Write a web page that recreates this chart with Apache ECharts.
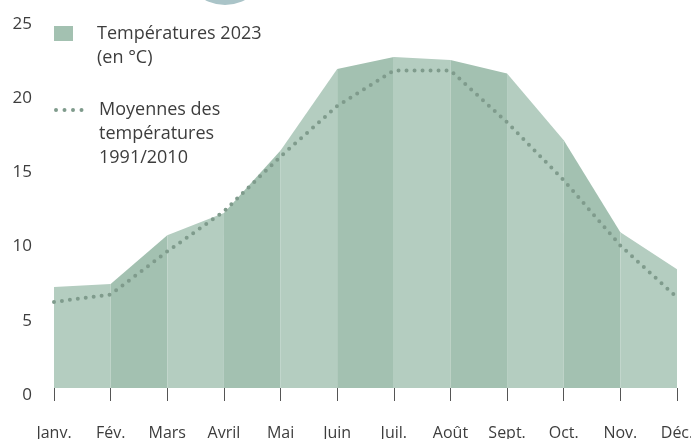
<!DOCTYPE html>
<html>
<head>
<meta charset="utf-8">
<script src="https://cdn.jsdelivr.net/npm/echarts@6/dist/echarts.min.js"></script>
<style>
  html, body { margin: 0; padding: 0; background: #fff; }
  #chart { width: 691px; height: 439px; }
</style>
</head>
<body>
<div id="chart"></div>
<script>
// données
const months = ['Janv.', 'Fév.', 'Mars', 'Avril', 'Mai', 'Juin', 'Juil.', 'Août', 'Sept.', 'Oct.', 'Nov.', 'Déc.']
const temp2023 = [6.8, 7.0, 10.3, 11.8, 16.0, 21.5, 22.3, 22.1, 21.2, 16.7, 10.5, 8.0]
const moyennes = [5.8, 6.3, 9.2, 11.9, 15.6, 19.0, 21.4, 21.4, 17.9, 14.0, 9.6, 6.1]
const yTicks = [0, 5, 10, 15, 20, 25]

const nameTemp = 'Températures 2023'
const nameMoy = 'Moyennes des températures 1991/2010'
const font = "'Open Sans', sans-serif"
const textColor = '#3d3d3d'
const lightBand = '#b4cdc0'
const darkBand = '#a3c1b1'
const dotColor = '#7f9b8c'

// une série par mois pour avoir les bandes alternées
const bandSeries = []
for (let i = 0; i < months.length - 1; i++) {
  bandSeries.push({
    name: nameTemp,
    type: 'line',
    data: temp2023.map((v, j) => (j === i || j === i + 1 ? v : '-')),
    symbol: 'none',
    silent: true,
    lineStyle: { width: 0 },
    itemStyle: { color: i % 2 === 0 ? lightBand : darkBand },
    areaStyle: { color: i % 2 === 0 ? lightBand : darkBand, opacity: 1 },
    z: 1
  })
}

const chart = echarts.init(document.getElementById('chart'))
chart.setOption({
  animation: false,
  grid: { left: 54, right: 14, top: 17, bottom: 51, outerBoundsMode: 'none', containLabel: false },
  graphic: [
    {
      type: 'circle',
      silent: true,
      shape: { cx: 225, cy: -37.5, r: 42.5 },
      style: { fill: '#aac4c8' }
    }
  ],
  legend: [
    {
      left: 54,
      top: -2.5,
      padding: 0,
      itemWidth: 19,
      itemHeight: 15,
      data: [{ name: nameTemp, icon: 'rect', itemStyle: { color: darkBand } }],
      // ligne vide en tête : la 1re ligne du texte reste alignée sur l'icône
      formatter: () => '\nTempératures 2023\n(en °C)',
      textStyle: {
        fontFamily: font,
        fontSize: 18,
        color: textColor,
        lineHeight: 24,
        padding: [0, 0, 0, 19]
      }
    },
    {
      left: 54,
      top: 50,
      padding: 0,
      itemWidth: 30,
      itemHeight: 10,
      data: [{ name: nameMoy, itemStyle: { color: 'rgba(0,0,0,0)', borderWidth: 0 } }],
      lineStyle: { width: 4, type: [0, 8.5], cap: 'round', color: dotColor },
      formatter: () => '\n\nMoyennes des\ntempératures\n1991/2010',
      textStyle: {
        fontFamily: font,
        fontSize: 18,
        color: textColor,
        lineHeight: 24,
        padding: [0, 0, 0, 8]
      }
    }
  ],
  xAxis: {
    type: 'category',
    data: months,
    boundaryGap: false,
    offset: 9,
    axisLine: { show: false },
    axisTick: { show: true, length: 13, lineStyle: { color: '#555', width: 1 } },
    axisLabel: { interval: 0, margin: 28, fontFamily: font, fontSize: 16, color: textColor },
    splitLine: { show: false }
  },
  yAxis: {
    type: 'value',
    min: yTicks[0],
    max: yTicks[yTicks.length - 1],
    interval: yTicks[1] - yTicks[0],
    axisLine: { show: false },
    axisTick: { show: false },
    splitLine: { show: false },
    axisLabel: {
      margin: 22,
      fontFamily: font,
      fontSize: 17,
      color: textColor,
      verticalAlign: 'top',
      lineHeight: 14
    }
  },
  series: [
    ...bandSeries,
    {
      name: nameMoy,
      type: 'line',
      data: moyennes,
      symbol: 'circle',
      showSymbol: false,
      silent: true,
      itemStyle: { color: dotColor },
      lineStyle: { width: 4, type: [0, 8], cap: 'round', color: dotColor },
      z: 3
    }
  ]
})
</script>
</body>
</html>
